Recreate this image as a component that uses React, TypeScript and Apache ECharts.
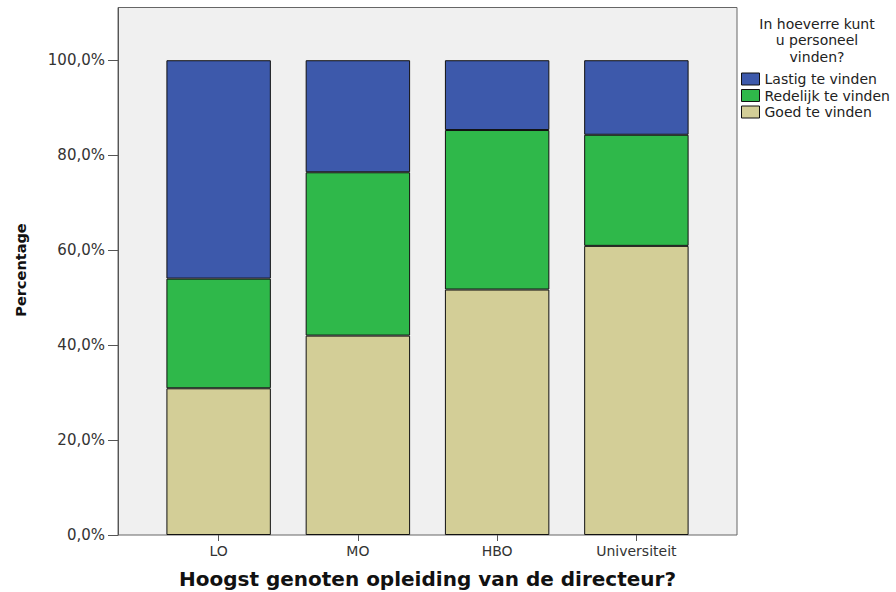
import React, { useEffect, useRef } from "react";
import * as echarts from "echarts";

const categories = ["LO", "MO", "HBO", "Universiteit"];
const goed = [30.9, 42.0, 51.7, 60.9];
const redelijk = [23.1, 34.4, 33.6, 23.4];
const lastig = [46.0, 23.6, 14.7, 15.7];
const yTicks = [0, 20, 40, 60, 80, 100];
const seriesNames = ["Lastig te vinden", "Redelijk te vinden", "Goed te vinden"];
const legendTitle = "In hoeverre kunt\nu personeel\nvinden?";

const FONT = "'DejaVu Sans', Verdana, sans-serif";

export default function App() {
  const ref = useRef<HTMLDivElement>(null);
  useEffect(() => {
    const chart = echarts.init(ref.current!, null, { renderer: "svg" });
    const fmt = (v: number) => v.toFixed(1).replace(".", ",") + "%";
    const barStyle = (color: string) => ({ color, borderColor: "#111", borderWidth: 1 });
    chart.setOption({
      animation: false,
      backgroundColor: "#fff",
      textStyle: { fontFamily: FONT },
      grid: { left: 149, right: 190, top: 8, bottom: 57, containLabel: false, outerBoundsMode: "none" },
      graphic: [
        {
          type: "rect",
          z: -10,
          shape: { x: 118, y: 7.5, width: 619, height: 527.5 },
          style: { fill: "#f0f0f0", stroke: "#666", lineWidth: 1 },
        },
        {
          type: "text",
          x: 817,
          y: 15.5,
          style: {
            text: legendTitle,
            align: "center",
            verticalAlign: "top",
            font: "14px " + FONT,
            lineHeight: 16.5,
            fill: "#222",
          },
        },
        {
          type: "text",
          x: 21,
          y: 270,
          rotation: Math.PI / 2,
          style: {
            text: "Percentage",
            align: "center",
            verticalAlign: "middle",
            font: "bold 14.5px " + FONT,
            fill: "#111",
          },
        },
      ],
      legend: {
        data: seriesNames,
        orient: "vertical",
        left: 741,
        top: 72,
        padding: 0,
        itemWidth: 18,
        itemHeight: 12,
        itemGap: 2.5,
        icon: "rect",
        textStyle: { fontSize: 14, color: "#222", fontFamily: FONT },
        itemStyle: { borderColor: "#111", borderWidth: 1 },
      },
      xAxis: {
        type: "category",
        data: categories,
        axisLine: { show: false },
        axisTick: { show: true, alignWithLabel: true, length: 6, lineStyle: { color: "#555" } },
        axisLabel: { fontSize: 14, color: "#333", margin: 9, fontFamily: FONT },
        name: "Hoogst genoten opleiding van de directeur?",
        nameLocation: "middle",
        nameGap: 34,
        nameTextStyle: {
          fontFamily: FONT,
          fontWeight: "bold",
          fontSize: 20,
          color: "#111",
        },
      },
      yAxis: {
        type: "value",
        min: 0,
        max: 111,
        interval: 20,
        offset: 31,
        splitLine: { show: false },
        axisLine: { show: true, lineStyle: { color: "#555" } },
        axisTick: { show: true, length: 10, customValues: yTicks, lineStyle: { color: "#555" } },
        axisLabel: { fontSize: 15, color: "#333", margin: 13, customValues: yTicks, formatter: fmt, fontFamily: FONT },
      },
      series: [
        { name: seriesNames[2], type: "bar", stack: "s", data: goed, barCategoryGap: "25%", itemStyle: barStyle("#d3ce97") },
        { name: seriesNames[1], type: "bar", stack: "s", data: redelijk, itemStyle: barStyle("#2fb84a") },
        { name: seriesNames[0], type: "bar", stack: "s", data: lastig, itemStyle: barStyle("#3d59ab") },
      ],
    });
    return () => chart.dispose();
  }, []);
  return <div ref={ref} style={{ position: "fixed", left: 0, top: 0, width: 896, height: 592 }} />;
}
